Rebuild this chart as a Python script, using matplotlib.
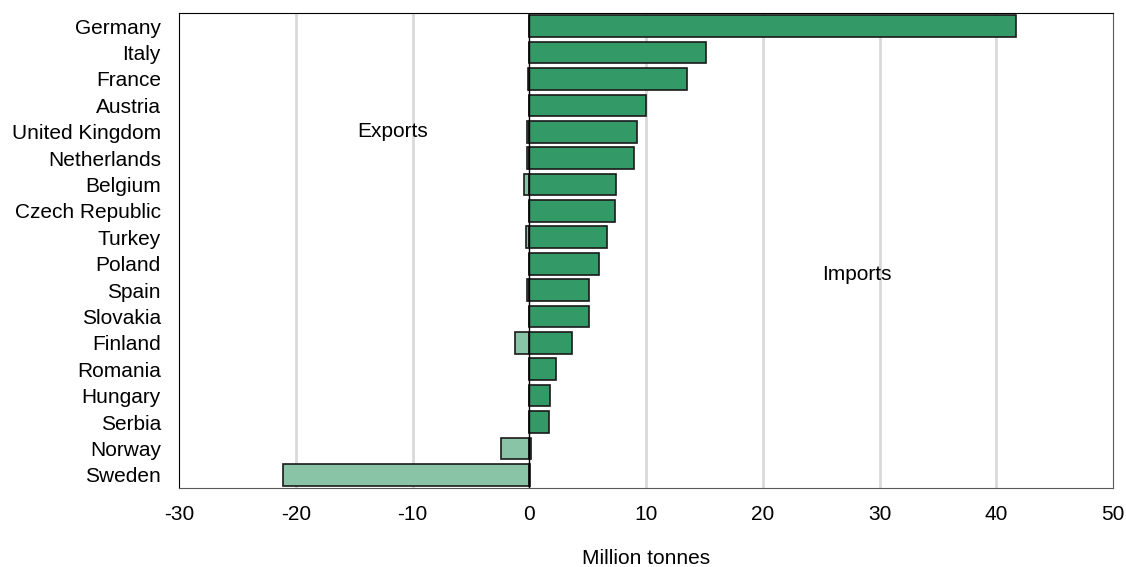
import numpy as np
import matplotlib.pyplot as plt

plt.rcParams['font.family'] = ['Liberation Sans', 'DejaVu Sans']

countries = ['Germany', 'Italy', 'France', 'Austria', 'United Kingdom', 'Netherlands',
             'Belgium', 'Czech Republic', 'Turkey', 'Poland', 'Spain', 'Slovakia',
             'Finland', 'Romania', 'Hungary', 'Serbia', 'Norway', 'Sweden']
imports = [41.7, 15.1, 13.55, 9.97, 9.2, 8.95, 7.4, 7.35, 6.65, 5.95, 5.15, 5.1,
           3.7, 2.25, 1.8, 1.65, 0.15, 0.1]
exports = [0, 0, -0.1, 0, -0.15, -0.2, -0.45, 0, -0.3, 0, -0.15, 0,
           -1.2, 0, 0, 0, -2.4, -21.1]
xticks = [-30, -20, -10, 0, 10, 20, 30, 40, 50]

fig = plt.figure(figsize=(11.26, 5.67), dpi=100)
ax = fig.add_axes([179 / 1126, 1 - 488 / 567, (1113 - 179) / 1126, (488 - 13) / 567])

y = np.arange(len(countries))
ax.barh(y, exports, height=0.82, color='#8ac4a7', edgecolor='#1a1a1a', linewidth=1.2, zorder=2)
ax.barh(y, imports, height=0.82, color='#339966', edgecolor='#1a1a1a', linewidth=1.2, zorder=3)
ax.axvline(0, color='black', linewidth=1.0, zorder=4)

ax.set_xlim(-30, 50)
ax.set_ylim(len(countries) - 0.5, -0.5)
ax.set_xticks(xticks)
ax.set_xticklabels([str(t) for t in xticks], fontsize=15)
ax.set_yticks(y)
ax.set_yticklabels(countries, fontsize=15)
ax.tick_params(length=0)
ax.tick_params(axis='y', pad=13)
ax.tick_params(axis='x', pad=12)
for t in [-20, -10, 10, 20, 30, 40]:
    ax.axvline(t, color='#d9d9d9', linewidth=2, zorder=1)

ax.spines['left'].set_color('black')
ax.spines['top'].set_color('black')
ax.spines['right'].set_color('#595959')
ax.spines['bottom'].set_color('#595959')

ax.text(-11.7, 4, 'Exports', fontsize=15, ha='center', va='center')
ax.text(28.1, 9.4, 'Imports', fontsize=15, ha='center', va='center')
ax.set_xlabel('Million tonnes', fontsize=15, labelpad=18)

fig.savefig('out.png', dpi=100)
